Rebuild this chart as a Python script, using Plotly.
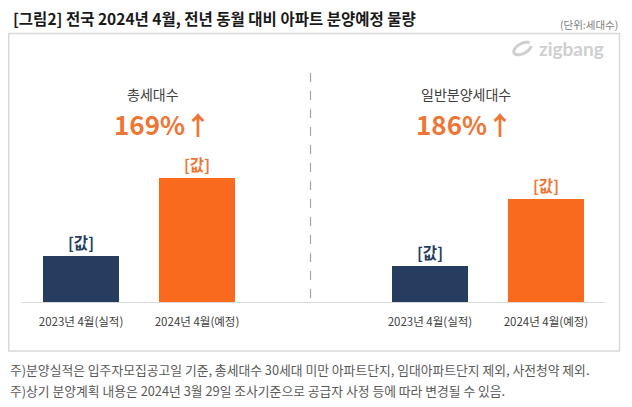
import numpy as np
import plotly.graph_objects as go

# ---- data ----
categories = ["2023년 4월(실적)", "2024년 4월(예정)"]
total_units = [11600, 31200]        # 총세대수
general_units = [9100, 26000]       # 일반분양세대수
bar_labels = ["[값]", "[값]"]
panel_titles = ["총세대수", "일반분양세대수"]
panel_changes = ["169%↑", "186%↑"]
title_text = "[그림2] 전국 2024년 4월, 전년 동월 대비 아파트 분양예정 물량"
unit_text = "(단위:세대수)"
notes = [
    "주)분양실적은 입주자모집공고일 기준, 총세대수 30세대 미만 아파트단지, 임대아파트단지 제외, 사전청약 제외.",
    "주)상기 분양계획 내용은 2024년 3월 29일 조사기준으로 공급자 사정 등에 따라 변경될 수 있음.",
]

# page body has an 8px margin: figure occupies screen 8..632 x 8..407
OFF = 8
W, H = 632 - OFF, 407 - OFF
FONT = "Noto Sans CJK KR"
NAVY = "#263D5F"
ORANGE = "#FA6A1E"
ORANGE_TXT = "#EE7634"
bar_colors = [NAVY, ORANGE]
label_colors = [NAVY, ORANGE_TXT]


def px(x):
    return (x - OFF) / W


def py(y):
    return 1 - (y - OFF) / H


fig = go.Figure()
for i, vals in enumerate([total_units, general_units]):
    ax = "x" if i == 0 else "x2"
    fig.add_trace(go.Bar(
        x=categories, y=vals, xaxis=ax, yaxis="y" if i == 0 else "y2",
        marker=dict(color=bar_colors, line=dict(width=0)),
        width=0.66,
        text=bar_labels, textposition="outside", cliponaxis=False,
        textfont=dict(family=FONT, size=15.5, color=label_colors, weight="bold"),
        hoverinfo="skip", showlegend=False,
    ))

y_dom = [py(302), py(40)]
axis_common = dict(type="category", showgrid=False, zeroline=False, showline=True,
                   linecolor="#d9d9d9", linewidth=1, ticks="", fixedrange=True,
                   tickfont=dict(family=FONT, size=11.5, color="#404040"),
                   ticklabelstandoff=9)
fig.update_layout(
    width=W, height=H,
    margin=dict(l=0, r=0, t=0, b=0),
    paper_bgcolor="white", plot_bgcolor="rgba(0,0,0,0)",
    bargap=0,
    xaxis=dict(domain=[px(22), px(310)], range=[-0.509, 1.974], anchor="y", **axis_common),
    xaxis2=dict(domain=[px(310), px(605)], range=[-1.034, 1.509], anchor="y2", **axis_common),
    yaxis=dict(domain=y_dom, range=[0, 66000], visible=False, anchor="x"),
    yaxis2=dict(domain=y_dom, range=[0, 66000], visible=False, anchor="x2"),
)

shapes = [
    dict(type="rect", xref="paper", yref="paper", x0=px(8.75), x1=px(619.5), y0=py(351), y1=py(33.5),
         line=dict(color="#d9d9d9", width=1.5), layer="below"),
    dict(type="line", xref="paper", yref="paper", x0=px(310.5), x1=px(310.5), y0=py(298), y1=py(70),
         line=dict(color="#a6a6a6", width=1.2, dash="dash")),
]
# zigbang logo ring
t = np.linspace(0.35, 2 * np.pi - 0.35, 40)
ang = np.deg2rad(-28)
cx, cy, a, b = 522.5, 48.5, 9.5, 5.0
xs = cx + a * np.cos(t) * np.cos(ang) - b * np.sin(t) * np.sin(ang)
ys = cy + a * np.cos(t) * np.sin(ang) + b * np.sin(t) * np.cos(ang)
path = "M " + " L ".join(f"{px(x):.5f},{py(y):.5f}" for x, y in zip(xs, ys))
shapes.append(dict(type="path", xref="paper", yref="paper", path=path,
                   line=dict(color="#cfcfcf", width=3)))
fig.update_layout(shapes=shapes)

ann = []
ann.append(dict(x=px(11), y=py(18.5), xanchor="left", yanchor="middle", text=title_text,
                font=dict(family=FONT, size=15.5, color="#1a1a1a", weight="bold")))
ann.append(dict(x=px(620), y=py(24), xanchor="right", yanchor="middle", text=unit_text,
                font=dict(family=FONT, size=10.5, color="#808080")))
ann.append(dict(x=px(571), y=py(48), xanchor="center", yanchor="middle", text="zigbang",
                font=dict(family="Lato", size=19, color="#cfcfcf", weight="bold")))
centers_title = [153, 466]
centers_change = [162, 465]
for i in range(2):
    ann.append(dict(x=px(centers_title[i]), y=py(94), xanchor="center", yanchor="middle",
                    text=panel_titles[i], font=dict(family=FONT, size=14, color="#404040")))
    ann.append(dict(x=px(centers_change[i]), y=py(123), xanchor="center", yanchor="middle",
                    text=panel_changes[i], font=dict(family=FONT, size=26, color=ORANGE_TXT, weight="bold")))
for j, note in enumerate(notes):
    ann.append(dict(x=px(8), y=py(369 + 21 * j), xanchor="left", yanchor="middle", text=note,
                    font=dict(family=FONT, size=12.8, color="#595959")))
for a_ in ann:
    a_.update(xref="paper", yref="paper", showarrow=False)
fig.update_layout(annotations=ann)

fig.write_html("out.html")
